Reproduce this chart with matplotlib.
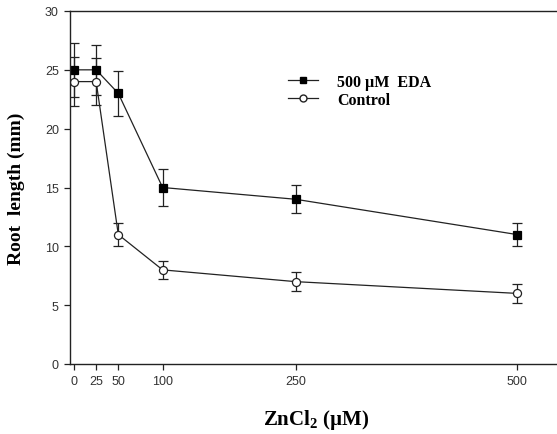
import numpy as np
import matplotlib
matplotlib.use("Agg")
import matplotlib.pyplot as plt
from matplotlib.lines import Line2D

# Data
zncl2 = [0, 25, 50, 100, 250, 500]
eda_mean = [25, 25, 23, 15, 14, 11]
eda_err = [2.3, 2.1, 1.9, 1.6, 1.2, 1.0]
ctrl_mean = [24, 24, 11, 8, 7, 6]
ctrl_err = [2.05, 2.0, 1.0, 0.75, 0.8, 0.8]

xticks = [0, 25, 50, 100, 250, 500]
yticks = [0, 5, 10, 15, 20, 25, 30]

plt.rcParams["mathtext.fontset"] = "custom"
plt.rcParams["mathtext.rm"] = "Liberation Serif:bold"
plt.rcParams["mathtext.it"] = "Liberation Serif:bold"
plt.rcParams["mathtext.bf"] = "Liberation Serif:bold"

fig = plt.figure(figsize=(5.57, 4.35), dpi=100)
ax = fig.add_axes([70 / 557, 1 - 365 / 435, 1 - 70 / 557, (365 - 12) / 435])

dark = "#222222"
line_kw = dict(color=dark, lw=0.9, capsize=3.5, elinewidth=0.9,
               capthick=0.9, markersize=5.8, markeredgewidth=0.9)
ax.errorbar(zncl2, eda_mean, yerr=eda_err, marker="s", mfc="black",
            mec="black", **line_kw)
ax.errorbar(zncl2, ctrl_mean, yerr=ctrl_err, marker="o", mfc="white",
            mec=dark, **line_kw)

ax.set_xlim(-4.5, 545)
ax.set_ylim(0, 30)
ax.set_xticks(xticks)
ax.set_yticks(yticks)
ax.spines["right"].set_visible(False)
for s in ["left", "top", "bottom"]:
    ax.spines[s].set_linewidth(1.0)
    ax.spines[s].set_color(dark)
ax.tick_params(direction="out", length=4, width=0.9, color=dark,
               labelsize=9, pad=4)
for lab in ax.get_xticklabels() + ax.get_yticklabels():
    lab.set_family("Liberation Sans")
    lab.set_color("#333333")

serif = "Liberation Serif"
ax.set_ylabel("Root  length (mm)", family=serif, fontweight="bold",
              fontsize=14, labelpad=14)
ax.set_xlabel("ZnCl$_2$ (\u00b5M)", family=serif, fontweight="bold",
              fontsize=15, va="center")
ax.xaxis.set_label_coords((316 - 70) / (557 - 70), -(420 - 365) / 353)

handles = [
    Line2D([], [], color=dark, lw=0.9, marker="s", mfc="black", mec="black",
           markersize=5),
    Line2D([], [], color=dark, lw=0.9, marker="o", mfc="white", mec=dark,
           markersize=5),
]
ax.legend(handles, ["500 \u00b5M  EDA", "Control"], loc="upper left",
          bbox_to_anchor=(0.418, 0.862), frameon=False,
          prop=dict(family=serif, weight="bold", size=11.5),
          handlelength=1.9, handletextpad=1.2, labelspacing=0.12)

fig.savefig("out.png", dpi=100)
